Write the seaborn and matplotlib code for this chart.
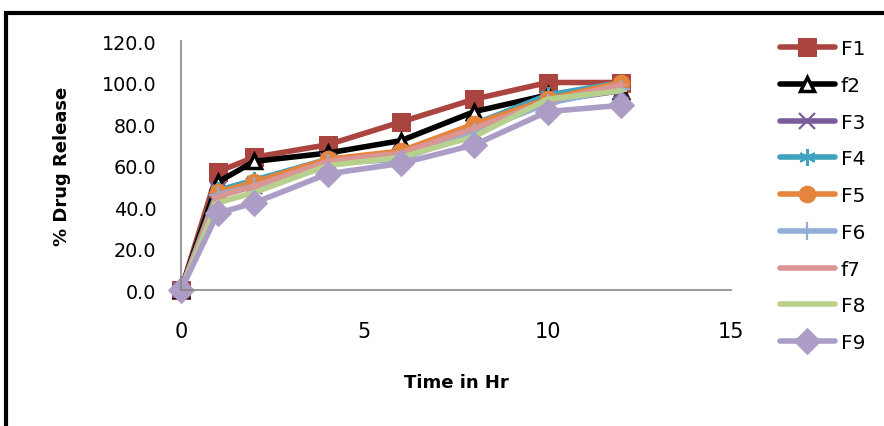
import matplotlib
matplotlib.use("Agg")
import matplotlib.pyplot as plt
import seaborn as sns
import pandas as pd
from matplotlib.patches import Rectangle

time_hr = [0, 1, 2, 4, 6, 8, 10, 12]
F1 = [0, 57, 64, 70, 81, 92, 100, 100]
f2 = [0, 52, 62, 66, 72, 86, 94, 96]
F3 = [0, 48, 50, 62, 65, 76, 91, 96]
F4 = [0, 48, 53, 63, 66, 80, 94, 100]
F5 = [0, 47, 52, 63, 67, 80, 92, 100]
F6 = [0, 46, 50, 61, 63, 76, 90, 97]
f7 = [0, 45, 50, 62, 66, 78, 91, 99]
F8 = [0, 42, 47, 60, 64, 74, 92, 96]
F9 = [0, 37, 42, 56, 61, 70, 86, 89]

series_names = ["F1", "f2", "F3", "F4", "F5", "F6", "f7", "F8", "F9"]
series_values = [F1, f2, F3, F4, F5, F6, f7, F8, F9]
x_ticks = [0, 5, 10, 15]
y_ticks = [0, 20, 40, 60, 80, 100, 120]

colors = ["#A9443F", "#000000", "#7A5C9C", "#3FA2BE", "#E5843C",
          "#91AFD6", "#D99694", "#B8D08E", "#AC9DC6"]
markers = ["s", "^", "x", (6, 2, 0), "o", "+", "_", "_", "D"]
msizes = [13, 10, 11, 12, 12, 13, 9, 9, 13]

sns.set_style("white")
plt.rcParams["font.family"] = ["DejaVu Sans"]
plt.rcParams["text.color"] = "black"
plt.rcParams["axes.labelcolor"] = "black"

fig = plt.figure(figsize=(8.84, 4.27), dpi=100)
ax = fig.add_axes([0.2048, 0.3185, 0.6222, 0.5831])

for name, vals, c, m, ms in zip(series_names, series_values, colors, markers, msizes):
    df = pd.DataFrame({"t": time_hr, "v": vals})
    kw = dict(marker=m, markersize=ms, color=c, linewidth=4, label=name, clip_on=False)
    if name == "f2":
        kw.update(markerfacecolor="white", markeredgecolor="black", markeredgewidth=2.5)
    elif m in ("x", "+", (6, 2, 0), "_"):
        kw.update(markeredgewidth=1.6, markeredgecolor=c)
    else:
        kw.update(markeredgecolor=c)
    sns.lineplot(data=df, x="t", y="v", ax=ax, **kw)

ax.set_xlim(0, 15)
ax.set_ylim(0, 120)
ax.set_xticks(x_ticks)
ax.set_yticks(y_ticks)
ax.set_yticklabels([f"{v:.1f}" for v in y_ticks])
ax.tick_params(axis="both", labelcolor="black", direction="out",
               width=1.2, color="#868686")
ax.tick_params(axis="y", labelsize=13.8, length=5.8, pad=12)
ax.tick_params(axis="x", labelsize=15, length=5, pad=17)
for s in ["top", "right"]:
    ax.spines[s].set_visible(False)
for s in ["left", "bottom"]:
    ax.spines[s].set_color("#868686")
    ax.spines[s].set_linewidth(1.2)
ax.grid(False)
ax.set_xlabel("Time in Hr", fontsize=13, fontweight="bold", labelpad=23, color="black")
ax.set_ylabel("% Drug Release", fontsize=13, fontweight="bold", labelpad=22, color="black")

leg = ax.legend(loc="upper left", bbox_to_anchor=(0.862, 0.948),
                bbox_transform=fig.transFigure, frameon=False, fontsize=14.5,
                handlelength=2.7, labelspacing=0.88, handletextpad=0.3)
for t in leg.get_texts():
    t.set_color("black")

fig.patches.append(Rectangle((0.0065, -0.1), 1.2, 1.068, transform=fig.transFigure,
                             fill=False, edgecolor="black", linewidth=3))

fig.savefig("out.png", dpi=100)
